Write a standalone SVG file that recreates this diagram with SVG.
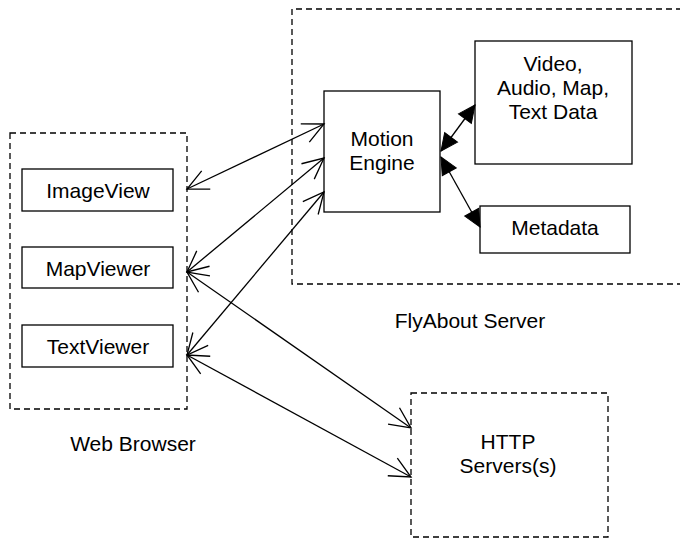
<svg xmlns="http://www.w3.org/2000/svg" width="680" height="540" viewBox="0 0 680 540">
<style>
.box{fill:#fff;stroke:#000;stroke-width:1.3}
.dash{fill:none;stroke:#000;stroke-width:1.3;stroke-dasharray:6 4}
.t{font-family:"Liberation Sans",Arial,sans-serif;font-size:21px;fill:#000;text-anchor:middle}
.c{fill:none;stroke:#000;stroke-width:1.3}
</style>
<defs>
<marker id="open" markerUnits="userSpaceOnUse" markerWidth="30" markerHeight="30" refX="0" refY="0" orient="auto-start-reverse" overflow="visible">
<path d="M -21 -10 L 0 0 L -21 10" fill="none" stroke="#000" stroke-width="1.3"/>
</marker>
<marker id="fill" markerUnits="userSpaceOnUse" markerWidth="30" markerHeight="30" refX="0" refY="0" orient="auto-start-reverse" overflow="visible">
<path d="M -17 -8 L 0 0 L -17 8 Z" fill="#000" stroke="#000" stroke-width="1"/>
</marker>
</defs>
<rect width="680" height="540" fill="#fff"/>
<g id="webbrowser">
<rect class="dash" x="10" y="133" width="177" height="276"/>
<text class="t" x="133" y="451">Web Browser</text>
</g>
<g id="flyabout">
<path class="dash" d="M 682 9 H 292 V 284 H 682"/>
<text class="t" x="470" y="328">FlyAbout Server</text>
</g>
<g id="http">
<rect class="dash" x="411" y="393" width="197" height="144"/>
<text class="t" x="508" y="449">HTTP</text>
<text class="t" x="508" y="473">Servers(s)</text>
</g>
<g id="imageview">
<rect class="box" x="22" y="169" width="151" height="42"/>
<text class="t" x="98" y="198">ImageView</text>
</g>
<g id="mapviewer">
<rect class="box" x="22" y="247" width="151" height="41"/>
<text class="t" x="98" y="276">MapViewer</text>
</g>
<g id="textviewer">
<rect class="box" x="22" y="325" width="151" height="42"/>
<text class="t" x="98" y="354">TextViewer</text>
</g>
<g id="motion">
<rect class="box" x="324" y="91" width="116" height="121"/>
<text class="t" x="382" y="146">Motion</text>
<text class="t" x="382" y="170">Engine</text>
</g>
<g id="video">
<rect class="box" x="475" y="41" width="157" height="123"/>
<text class="t" x="553" y="71">Video,</text>
<text class="t" x="553" y="95">Audio, Map,</text>
<text class="t" x="553" y="119">Text Data</text>
</g>
<g id="metadata">
<rect class="box" x="480" y="206" width="150" height="47"/>
<text class="t" x="555" y="235">Metadata</text>
</g>
<g id="connectors">
<line class="c" x1="187" y1="189" x2="324" y2="124" marker-start="url(#open)" marker-end="url(#open)"/>
<line class="c" x1="187" y1="272" x2="324" y2="158" marker-start="url(#open)" marker-end="url(#open)"/>
<line class="c" x1="187" y1="355" x2="324" y2="192" marker-start="url(#open)" marker-end="url(#open)"/>
<line class="c" x1="187" y1="272" x2="411" y2="428" marker-start="url(#open)" marker-end="url(#open)"/>
<line class="c" x1="187" y1="355" x2="411" y2="477" marker-start="url(#open)" marker-end="url(#open)"/>
<line class="c" x1="441" y1="151" x2="475" y2="105" marker-start="url(#fill)" marker-end="url(#fill)"/>
<line class="c" x1="441" y1="157" x2="480" y2="227" marker-start="url(#fill)" marker-end="url(#fill)"/>
</g>
</svg>
